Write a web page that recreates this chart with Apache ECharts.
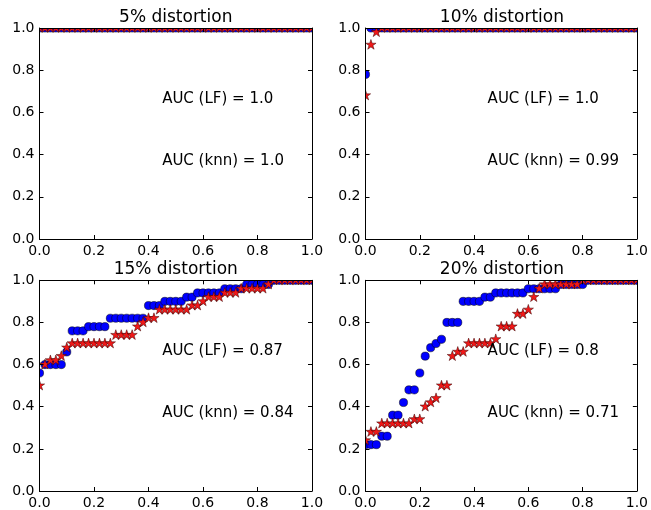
<!DOCTYPE html>
<html>
<head>
<meta charset="utf-8">
<script src="https://cdn.jsdelivr.net/npm/echarts@6/dist/echarts.min.js"></script>
<style>
html,body{margin:0;padding:0;background:#fff;}
#chart{width:651px;height:510px;}
</style>
</head>
<body>
<div id="chart"></div>
<script>
// ---------------- data ----------------
const panelTitles = ['5% distortion', '10% distortion', '15% distortion', '20% distortion'];
const aucLF  = ['1.0', '1.0', '0.87', '0.8'];
const aucKnn = ['1.0', '0.99', '0.84', '0.71'];
const axisTickValues = [0, 0.2, 0.4, 0.6, 0.8, 1.0];

// false positive rate (shared x values)
const fpr = [0,0.02,0.04,0.06,0.08,0.1,0.12,0.14,0.16,0.18,
             0.2,0.22,0.24,0.26,0.28,0.3,0.32,0.34,0.36,0.38,
             0.4,0.42,0.44,0.46,0.48,0.5,0.52,0.54,0.56,0.58,
             0.6,0.62,0.64,0.66,0.68,0.7,0.72,0.74,0.76,0.78,
             0.8,0.82,0.84,0.86,0.88,0.9,0.92,0.94,0.96,0.98,
             1];

// true positive rates, LF (blue circles) and knn (red stars)
const tprLF5  = [1,1,1,1,1,1,1,1,1,1, 1,1,1,1,1,1,1,1,1,1, 1,1,1,1,1,1,1,1,1,1, 1,1,1,1,1,1,1,1,1,1, 1,1,1,1,1,1,1,1,1,1, 1];
const tprKnn5 = [1,1,1,1,1,1,1,1,1,1, 1,1,1,1,1,1,1,1,1,1, 1,1,1,1,1,1,1,1,1,1, 1,1,1,1,1,1,1,1,1,1, 1,1,1,1,1,1,1,1,1,1, 1];

const tprLF10  = [0.78,1,1,1,1,1,1,1,1,1, 1,1,1,1,1,1,1,1,1,1, 1,1,1,1,1,1,1,1,1,1, 1,1,1,1,1,1,1,1,1,1, 1,1,1,1,1,1,1,1,1,1, 1];
const tprKnn10 = [0.68,0.92,0.98,1,1,1,1,1,1,1, 1,1,1,1,1,1,1,1,1,1, 1,1,1,1,1,1,1,1,1,1, 1,1,1,1,1,1,1,1,1,1, 1,1,1,1,1,1,1,1,1,1, 1];

const tprLF15 = [0.56,0.60,0.60,0.60,0.60,0.66,0.76,0.76,0.76,0.78,
                 0.78,0.78,0.78,0.82,0.82,0.82,0.82,0.82,0.82,0.82,
                 0.88,0.88,0.88,0.90,0.90,0.90,0.90,0.92,0.92,0.94,
                 0.94,0.94,0.94,0.94,0.96,0.96,0.96,0.96,0.98,0.98,
                 0.98,0.98,0.98,1,1,1,1,1,1,1,
                 1];
const tprKnn15 = [0.50,0.60,0.62,0.62,0.64,0.68,0.70,0.70,0.70,0.70,
                  0.70,0.70,0.70,0.70,0.74,0.74,0.74,0.74,0.78,0.80,
                  0.82,0.82,0.86,0.86,0.86,0.86,0.86,0.86,0.88,0.88,
                  0.90,0.92,0.92,0.92,0.94,0.94,0.94,0.96,0.96,0.96,
                  0.96,0.96,0.98,1,1,1,1,1,1,1,
                  1];

const tprLF20 = [0.22,0.22,0.22,0.26,0.26,0.36,0.36,0.42,0.48,0.48,
                 0.56,0.64,0.68,0.70,0.72,0.80,0.80,0.80,0.90,0.90,
                 0.90,0.90,0.92,0.92,0.94,0.94,0.94,0.94,0.94,0.94,
                 0.96,0.96,0.96,0.96,0.96,0.96,0.98,0.98,0.98,0.98,
                 0.98,1,1,1,1,1,1,1,1,1,
                 1];
const tprKnn20 = [0.24,0.28,0.28,0.32,0.32,0.32,0.32,0.32,0.32,0.34,
                  0.34,0.40,0.42,0.44,0.50,0.50,0.64,0.66,0.66,0.70,
                  0.70,0.70,0.70,0.70,0.72,0.78,0.78,0.78,0.84,0.84,
                  0.86,0.92,0.96,0.98,0.98,0.98,0.98,0.98,0.98,0.98,
                  1,1,1,1,1,1,1,1,1,1,
                  1];

const lfSeries  = [tprLF5, tprLF10, tprLF15, tprLF20];
const knnSeries = [tprKnn5, tprKnn10, tprKnn15, tprKnn20];

// ---------------- layout / style ----------------
const FONT = 'DejaVu Sans';
const grids = [
  {left: 39.5,  top: 28,    width: 272.5, height: 211},
  {left: 365.5, top: 28,    width: 272.8, height: 211},
  {left: 39.5,  top: 280.3, width: 272.5, height: 210.7},
  {left: 365.5, top: 280.3, width: 272.8, height: 210.7}
];
const titleTops = [9, 9, 261, 261];

const chart = echarts.init(document.getElementById('chart'), null, {renderer: 'canvas'});

function fmt(v) { return v.toFixed(1); }

const xAxes = [], yAxes = [], series = [], titles = [];
const axisLine = {show: true, onZero: false, lineStyle: {color: '#000', width: 1}};
const tick = {show: true, inside: true, length: 4, lineStyle: {color: '#000', width: 1}};

grids.forEach((g, i) => {
  ['bottom', 'top'].forEach(pos => {
    xAxes.push({
      type: 'value', gridIndex: i, position: pos, min: 0, max: 1, interval: 0.2,
      axisLine: axisLine, axisTick: tick, splitLine: {show: false}, z: 5,
      axisLabel: {show: pos === 'bottom', margin: 5, fontSize: 14, fontFamily: FONT, color: '#000', formatter: fmt}
    });
  });
  ['left', 'right'].forEach(pos => {
    yAxes.push({
      type: 'value', gridIndex: i, position: pos, min: 0, max: 1, interval: 0.2,
      axisLine: axisLine, axisTick: tick, splitLine: {show: false}, z: 5,
      axisLabel: {show: pos === 'left', margin: 5, fontSize: 14, fontFamily: FONT, color: '#000', formatter: fmt}
    });
  });
  titles.push({
    text: panelTitles[i], left: g.left + g.width / 2, top: titleTops[i], textAlign: 'center', padding: 0,
    textStyle: {fontSize: 17, fontWeight: 'normal', fontFamily: FONT, color: '#000'}
  });

  // LF: blue circles
  series.push({
    type: 'custom', xAxisIndex: 2 * i, yAxisIndex: 2 * i, clip: true, z: 2,
    data: fpr.map((x, k) => [x, lfSeries[i][k]]),
    renderItem: function (params, api) {
      const p = api.coord([api.value(0), api.value(1)]);
      return {type: 'circle', shape: {cx: p[0], cy: p[1], r: 4.1},
              style: {fill: '#0000ff', stroke: '#000', lineWidth: 0.5}};
    }
  });
  // knn: red stars
  series.push({
    type: 'custom', xAxisIndex: 2 * i, yAxisIndex: 2 * i, clip: true, z: 3,
    data: fpr.map((x, k) => [x, knnSeries[i][k]]),
    renderItem: function (params, api) {
      const p = api.coord([api.value(0), api.value(1)]);
      const R = 5.4, r = R * 0.382, pts = [];
      for (let j = 0; j < 10; j++) {
        const a = -Math.PI / 2 + j * Math.PI / 5;
        const rad = j % 2 === 0 ? R : r;
        pts.push([p[0] + rad * Math.cos(a), p[1] + rad * Math.sin(a)]);
      }
      return {type: 'polygon', shape: {points: pts},
              style: {fill: '#f01818', stroke: '#3a0000', lineWidth: 0.5}};
    }
  });
  // AUC annotations
  const labels = ['AUC (LF) = ' + aucLF[i], 'AUC (knn) = ' + aucKnn[i]];
  series.push({
    type: 'custom', xAxisIndex: 2 * i, yAxisIndex: 2 * i, clip: false, z: 4,
    data: [[0.45, 0.665], [0.45, 0.37]],
    renderItem: function (params, api) {
      const p = api.coord([api.value(0), api.value(1)]);
      return {type: 'text', x: p[0], y: p[1],
              style: {text: labels[params.dataIndex], fill: '#000', fontSize: 15, fontFamily: FONT,
                      align: 'left', verticalAlign: 'middle'}};
    }
  });
});

chart.setOption({
  animation: false,
  backgroundColor: '#fff',
  title: titles,
  grid: grids.map(g => Object.assign({containLabel: false}, g)),
  xAxis: xAxes,
  yAxis: yAxes,
  series: series
});
</script>
</body>
</html>
